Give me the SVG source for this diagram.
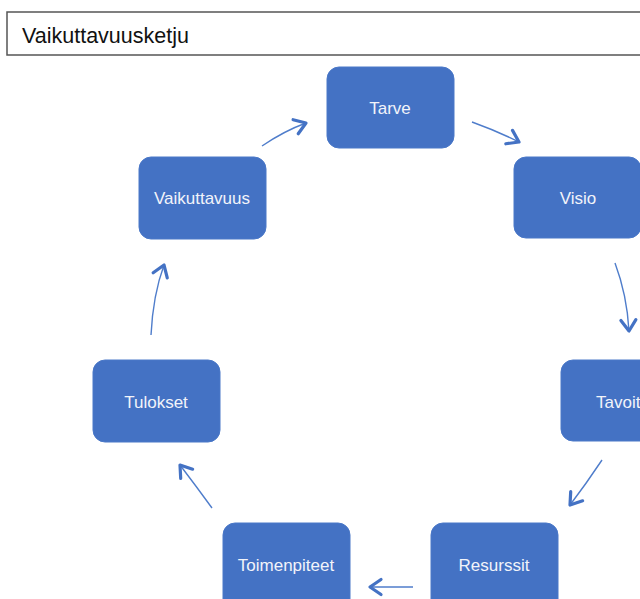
<svg xmlns="http://www.w3.org/2000/svg" width="640" height="599" viewBox="0 0 640 599">
<defs>
<style>
.box{fill:#4472C4;stroke:#4A78C8;stroke-width:1}
.lbl{font-family:"Liberation Sans",Arial,sans-serif;font-size:17px;fill:#F2F4FA;text-anchor:middle}
.conn{fill:none;stroke:#4F7DCB;stroke-width:1.4}
.title{font-family:"Liberation Sans",Arial,sans-serif;font-size:21.5px;fill:#111}
</style>
<marker id="ah" markerUnits="userSpaceOnUse" markerWidth="30" markerHeight="30" viewBox="-15 -15 30 30" refX="0" refY="0" orient="auto">
<path d="M-11,-7.5 L0,0 L-11,7.5" fill="none" stroke="#4472C4" stroke-width="3.2" stroke-linecap="round" stroke-linejoin="round"/>
</marker>
</defs>
<rect width="640" height="599" fill="#fff"/>
<g id="title">
<rect x="7" y="12" width="640" height="43" fill="#fff" stroke="#555" stroke-width="1.5"/>
<text class="title" x="22" y="43">Vaikuttavuusketju</text>
</g>
<g id="connectors">
<path class="conn" d="M262,146 Q284,131 306,123" marker-end="url(#ah)"/>
<path class="conn" d="M472,122 Q497,131 519,142" marker-end="url(#ah)"/>
<path class="conn" d="M615,263 Q627,295 629,331" marker-end="url(#ah)"/>
<path class="conn" d="M602,460 Q586,484 570,505" marker-end="url(#ah)"/>
<path class="conn" d="M413,587 L370,587" marker-end="url(#ah)"/>
<path class="conn" d="M212,508 Q196,486 180,465" marker-end="url(#ah)"/>
<path class="conn" d="M151,335 Q153,295 164,265" marker-end="url(#ah)"/>
</g>
<g id="n-tarve"><rect class="box" x="327" y="67" width="127" height="81" rx="12"/><text class="lbl" x="390" y="114">Tarve</text></g>
<g id="n-visio"><rect class="box" x="514" y="157" width="127" height="81" rx="12"/><text class="lbl" x="578" y="204">Visio</text></g>
<g id="n-tavoit"><rect class="box" x="561" y="360" width="127" height="81" rx="12"/><text class="lbl" x="596" y="408" style="text-anchor:start">Tavoit</text></g>
<g id="n-resurssit"><rect class="box" x="431" y="523" width="127" height="90" rx="12"/><text class="lbl" x="494" y="571">Resurssit</text></g>
<g id="n-toimenpiteet"><rect class="box" x="223" y="523" width="127" height="90" rx="12"/><text class="lbl" x="286" y="571">Toimenpiteet</text></g>
<g id="n-tulokset"><rect class="box" x="93" y="360" width="127" height="82" rx="12"/><text class="lbl" x="156" y="408">Tulokset</text></g>
<g id="n-vaikuttavuus"><rect class="box" x="139" y="157" width="127" height="82" rx="12"/><text class="lbl" x="202" y="204">Vaikuttavuus</text></g>
</svg>
